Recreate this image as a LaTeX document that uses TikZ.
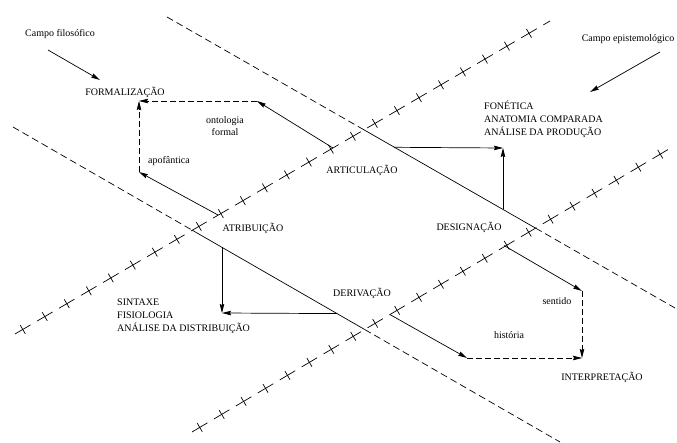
\documentclass[tikz,border=0pt]{standalone}
\usepackage{fontspec}
\setmainfont{Liberation Serif}
\usetikzlibrary{arrows.meta,decorations.markings}
\begin{document}
\begin{tikzpicture}[x=1pt,y=-1pt,
  lbl/.style={inner sep=0pt, font=\fontsize{10}{12.5}\selectfont},
  blocklbl/.style={lbl, align=left, anchor=west, font=\fontsize{10}{13}\selectfont},
  plain/.style={line width=0.7pt},
  dashline/.style={plain, dash pattern=on 7pt off 4pt},
  tickline/.style={plain, dash pattern=on 18pt off 7.5pt, postaction={decorate},
    decoration={markings, mark=between positions 9pt and 1 step 25.5pt with {\draw[solid,line width=0.7pt] (0,-5pt)--(0,5pt);}}},
  arr/.style={plain, -{Stealth[length=9pt,width=4.5pt,inset=1pt]}},
  darr/.style={arr, dash pattern=on 6pt off 3pt},
]
\useasboundingbox (0,0) rectangle (677,443);
% main lines
\coordinate (A1) at (15,334); \coordinate (A2) at (550,21);
\coordinate (B1) at (192,432); \coordinate (B2) at (674,146);
\coordinate (C1) at (167,17); \coordinate (C2) at (675,308);
\coordinate (D1) at (13,127); \coordinate (D2) at (560,442);
\coordinate (AC) at (intersection of A1--A2 and C1--C2);
\coordinate (AD) at (intersection of A1--A2 and D1--D2);
\coordinate (BC) at (intersection of B1--B2 and C1--C2);
\coordinate (BD) at (intersection of B1--B2 and D1--D2);
\draw[tickline] (A1) -- (A2);
\draw[tickline] (B1) -- (B2);
\draw[dashline] (C1) -- (AC);
\draw[plain] (AC) -- (BC);
\draw[dashline] (BC) -- (C2);
\draw[dashline] (D1) -- (AD);
\draw[plain] (AD) -- (BD);
\draw[dashline] (BD) -- (D2);
% field arrows
\node[lbl] (cf) at (60,34) {Campo filosófico};
\coordinate (cf1) at (48,50); \coordinate (cf2) at (100,80);
\draw[arr] (cf1) -- (cf2);
\node[lbl] (ce) at (628,39) {Campo epistemológico};
\coordinate (ce1) at (660,52); \coordinate (ce2) at (590,92);
\draw[arr] (ce1) -- (ce2);
% formalizacao
\node[lbl] (form) at (125,92) {FORMALIZAÇÃO};
\coordinate (Fc) at (139,101);
\coordinate (pA1) at (333,148); \coordinate (F1) at (257,101);
\coordinate (pA2) at (218,215); \coordinate (F2) at (139,172);
\draw[arr] (pA1) -- (F1);
\draw[darr] (F1) -- (Fc);
\draw[arr] (pA2) -- (F2);
\draw[darr] (F2) -- (Fc);
\node[lbl, align=center] (onto) at (225,126) {ontologia\\formal};
\node[lbl] (apo) at (169,161) {apofântica};
\node[lbl] (artic) at (362,170) {ARTICULAÇÃO};
% fonetica
\node[blocklbl] (fon) at (484,119.5) {FONÉTICA\\ANATOMIA COMPARADA\\ANÁLISE DA PRODUÇÃO};
\coordinate (Pc) at (503,148);
\coordinate (pC1) at (394,147.3); \coordinate (pC2) at (503,209.5);
\draw[arr] (pC1) -- (Pc);
\draw[arr] (pC2) -- (Pc);
\node[lbl] (atrib) at (253,228) {ATRIBUIÇÃO};
\node[lbl] (desig) at (469,227) {DESIGNAÇÃO};
% sintaxe
\node[blocklbl] (sint) at (117,316.5) {SINTAXE\\FISIOLOGIA\\ANÁLISE DA DISTRIBUIÇÃO};
\coordinate (Sc) at (222,313);
\coordinate (pD1) at (222,247.4); \coordinate (pD2) at (337,313.6);
\draw[arr] (pD1) -- (Sc);
\draw[arr] (pD2) -- (Sc);
\node[lbl] (deriv) at (362,293) {DERIVAÇÃO};
% interpretacao
\coordinate (Ic) at (582,358);
\coordinate (pB1) at (504,245.5); \coordinate (I1) at (582,291);
\coordinate (pB2) at (390,314.6); \coordinate (I2) at (467,358);
\draw[arr] (pB1) -- (I1);
\draw[darr] (I1) -- (Ic);
\draw[arr] (pB2) -- (I2);
\draw[darr] (I2) -- (Ic);
\node[lbl] (sent) at (557,301) {sentido};
\node[lbl] (hist) at (509,335) {história};
\node[lbl] (interp) at (602,377) {INTERPRETAÇÃO};
\end{tikzpicture}
\end{document}
